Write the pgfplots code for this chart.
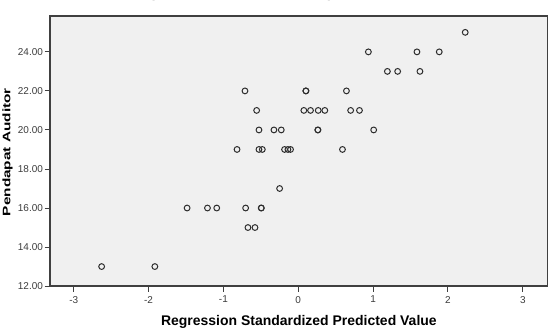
\documentclass[border=0pt]{standalone}
\usepackage{pgfplots}
\pgfplotsset{compat=1.18}
\usepackage{fontspec}
\setmainfont{Liberation Sans}

\definecolor{panel}{RGB}{240,240,240}
\definecolor{frame}{RGB}{64,64,64}
\definecolor{ticktext}{RGB}{60,60,60}
\definecolor{markline}{RGB}{45,45,45}

% standardized predicted value vs. observed score
\pgfplotstableread{
x       y
2.231   25
0.937   24
1.586   24
1.884   24
1.191   23
1.328   23
1.626   23
-0.712  22
0.102   22
0.102   22
0.644   22
-0.556  21
0.075   21
0.164   21
0.267   21
0.355   21
0.700   21
0.818   21
-0.525  20
-0.325  20
-0.227  20
0.262   20
0.262   20
1.008   20
-0.818  19
-0.525  19
-0.480  19
-0.183  19
-0.138  19
-0.103  19
0.591   19
-0.249  17
-1.485  16
-1.213  16
-1.089  16
-0.703  16
-0.494  16
-0.494  16
-0.672  15
-0.578  15
-2.627  13
-1.916  13
}\scatterdata

\begin{document}
\begin{tikzpicture}
\begin{axis}[
  at={(0pt,0pt)}, anchor=south west,
  scale only axis, width=498.7pt, height=270.7pt,
  xmin=-3.316, xmax=3.333, ymin=12, ymax=25.84,
  axis background/.style={fill=panel},
  axis line style={draw=frame, line width=1.2pt},
  xtick={-3,-2,-1,0,1,2,3},
  xticklabels={-3,-2,-1,0,1,2,3},
  ytick={12,14,16,18,20,22,24},
  yticklabels={12.00,14.00,16.00,18.00,20.00,22.00,24.00},
  tick align=outside, tick pos=left,
  major tick length=5.5pt,
  tick style={draw=frame, line width=0.9pt},
  ticklabel style={font=\fontsize{10}{12}\selectfont, text=ticktext},
  xticklabel style={yshift=-1pt},
  yticklabel style={inner xsep=1.5pt},
  xlabel={Regression Standardized Predicted Value},
  ylabel={Pendapat Auditor},
  label style={font=\bfseries\fontsize{14}{16}\selectfont, text=black},
  xlabel style={at={(axis description cs:0.5,-0.1315)}, anchor=center},
  ylabel style={at={(axis description cs:-0.0852,0.496)}, anchor=center,
    xscale=1.1, yscale=0.78},
  clip=false,
]
\addplot[only marks, mark=o, mark size=2.9pt,
  mark options={draw=markline, line width=1pt}]
  table[x=x, y=y] {\scatterdata};
\end{axis}
\useasboundingbox (-49pt,-42.3pt) rectangle (500pt,286.7pt);
% chart title, sitting just above the page edge
\node[anchor=base west, inner sep=0pt,
  font=\bfseries\fontsize{15}{18}\selectfont]
  at (82.5pt,289.2pt) {Dependent Variable: Pendapat Auditor};
\end{tikzpicture}
\end{document}
